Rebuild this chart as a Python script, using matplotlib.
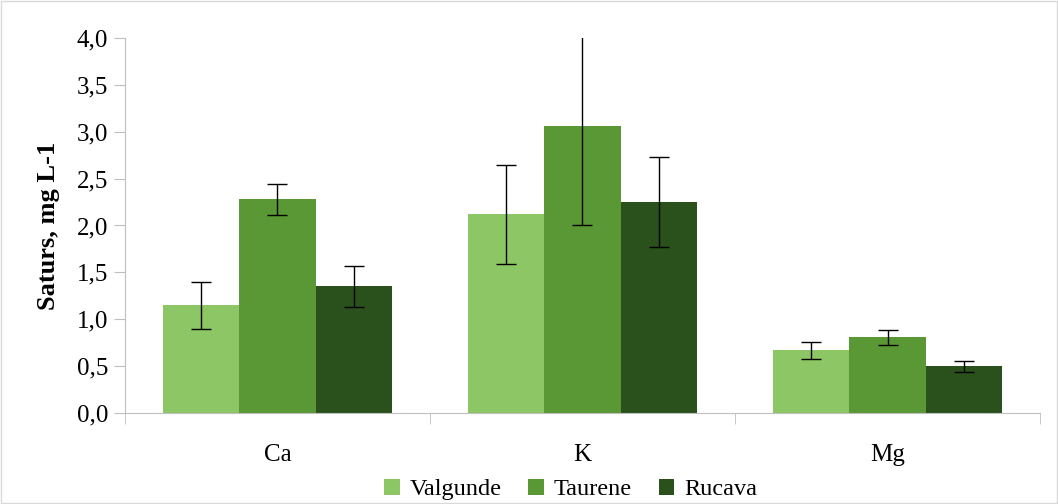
import numpy as np
import matplotlib.pyplot as plt
from matplotlib.patches import Rectangle

# Data
elements = ['Ca', 'K', 'Mg']
sites = ['Valgunde', 'Taurene', 'Rucava']
valgunde = [1.15, 2.12, 0.67]
taurene = [2.28, 3.06, 0.81]
rucava = [1.35, 2.25, 0.50]
valgunde_err = [0.25, 0.53, 0.09]
taurene_err = [0.165, 1.06, 0.08]
rucava_err = [0.22, 0.48, 0.058]

colors = ['#8CC665', '#599834', '#2A511B']

plt.rcParams['font.family'] = ['Liberation Serif', 'DejaVu Serif']

fig = plt.figure(figsize=(10.58, 5.04), dpi=100)
ax = fig.add_axes([0.1181, 0.1806, 0.8649, 0.744])

x = np.arange(len(elements))
w = 0.25
series = [valgunde, taurene, rucava]
errs = [valgunde_err, taurene_err, rucava_err]
for i, (vals, err) in enumerate(zip(series, errs)):
    ax.bar(x + (i - 1) * w, vals, width=w, color=colors[i], label=sites[i], zorder=2)
    ax.errorbar(x + (i - 1) * w, vals, yerr=err, fmt='none', ecolor='black',
                elinewidth=1, capsize=7.5, capthick=1, zorder=3)

ax.set_xlim(-0.5, 2.5)
ax.set_ylim(0, 4.0)
ax.set_yticks(np.arange(0, 4.01, 0.5))
ax.set_yticklabels([f'{v:.1f}'.replace('.', ',') for v in np.arange(0, 4.01, 0.5)])
ax.set_xticks(x)
ax.set_xticklabels(elements)
ax.set_xticks([-0.5, 0.5, 1.5, 2.5], minor=True)
ax.tick_params(axis='x', which='major', length=0, pad=22, labelsize=18)
ax.tick_params(axis='x', which='minor', length=8, color='#BFBFBF', direction='out')
ax.tick_params(axis='y', length=8, color='#BFBFBF', labelsize=18, pad=4)

for s in ['top', 'right']:
    ax.spines[s].set_visible(False)
for s in ['left', 'bottom']:
    ax.spines[s].set_color('#BFBFBF')

ax.set_ylabel('Saturs, mg L-1', fontsize=19, fontweight='bold', labelpad=12)

ax.legend(loc='upper center', bbox_to_anchor=(0.487, -0.13), ncol=3, frameon=False,
          fontsize=17.5, handlelength=0.65, handleheight=0.65, handletextpad=0.4,
          columnspacing=1.1, borderpad=0.2)

fig.patches.append(Rectangle((0.001, 0.001), 0.998, 0.997, transform=fig.transFigure,
                             fill=False, edgecolor='#D9D9D9', linewidth=1))

fig.savefig('out.png', dpi=100)
